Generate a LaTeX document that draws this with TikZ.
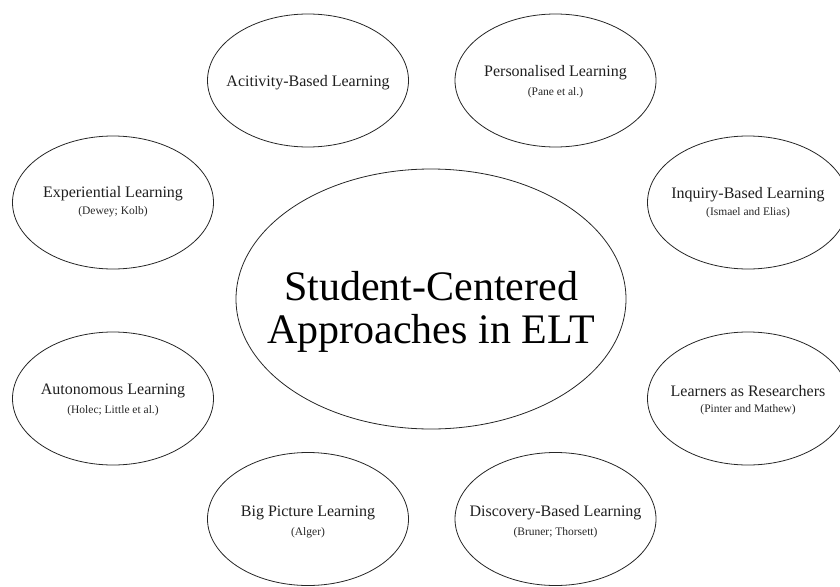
\documentclass[tikz,border=0pt]{standalone}
\usepackage{fontspec}
\setmainfont{Liberation Serif}
\usetikzlibrary{shapes.geometric}
\begin{document}
\begin{tikzpicture}[x=1pt,y=-1pt,
  bubble/.style={ellipse, draw=black!85, line width=0.8pt, minimum width=201pt, minimum height=133pt, inner sep=0pt},
  hub/.style={ellipse, draw=black!85, line width=0.8pt, minimum width=390pt, minimum height=260pt, inner sep=0pt},
  maintxt/.style={font=\fontsize{16}{19}\selectfont, text=black!88, inner sep=0pt},
  citetxt/.style={font=\fontsize{11.5}{14}\selectfont, text=black!85, inner sep=0pt},
  hubtxt/.style={font=\fontsize{42}{43}\selectfont, align=center, text=black, inner sep=0pt}]
\useasboundingbox (0,0) rectangle (840,586);
% central ellipse
\node[hub] (hub) at (431,299) {};
\node[hubtxt] (hubt) at ([yshift=-13pt]hub.center) {Student-Centered\\Approaches in ELT};
% outer ellipses
\node[bubble] (act) at (308,80.5) {};
\node[bubble] (per) at (555.5,80.5) {};
\node[bubble] (exp) at (113,202.5) {};
\node[bubble] (inq) at (748,202.5) {};
\node[bubble] (aut) at (113,398.5) {};
\node[bubble] (lar) at (748,398.5) {};
\node[bubble] (big) at (308,519) {};
\node[bubble] (dis) at (555.5,519) {};
% texts
\node[maintxt] (actt) at ([yshift=-2pt]act.center) {Acitivity-Based Learning};
\node[maintxt] (pert) at ([yshift=8pt]per.center) {Personalised Learning};
\node[citetxt] (perc) at ([yshift=-12pt]per.center) {(Pane et al.)};
\node[maintxt] (expt) at ([yshift=8.5pt]exp.center) {Experiential Learning};
\node[citetxt] (expc) at ([yshift=-9.5pt]exp.center) {(Dewey; Kolb)};
\node[maintxt] (inqt) at ([yshift=7.5pt]inq.center) {Inquiry-Based Learning};
\node[citetxt] (inqc) at ([yshift=-10.5pt]inq.center) {(Ismael and Elias)};
\node[maintxt] (autt) at ([yshift=7.5pt]aut.center) {Autonomous Learning};
\node[citetxt] (autc) at ([yshift=-12.5pt]aut.center) {(Holec; Little et al.)};
\node[maintxt] (lart) at ([yshift=7.5pt]lar.center) {Learners as Researchers};
\node[citetxt] (larc) at ([yshift=-11.5pt]lar.center) {(Pinter and Mathew)};
\node[maintxt] (bigt) at ([yshift=6pt]big.center) {Big Picture Learning};
\node[citetxt] (bigc) at ([yshift=-14pt]big.center) {(Alger)};
\node[maintxt] (dist) at ([yshift=6pt]dis.center) {Discovery-Based Learning};
\node[citetxt] (disc) at ([yshift=-14pt]dis.center) {(Bruner; Thorsett)};
\end{tikzpicture}
\end{document}
